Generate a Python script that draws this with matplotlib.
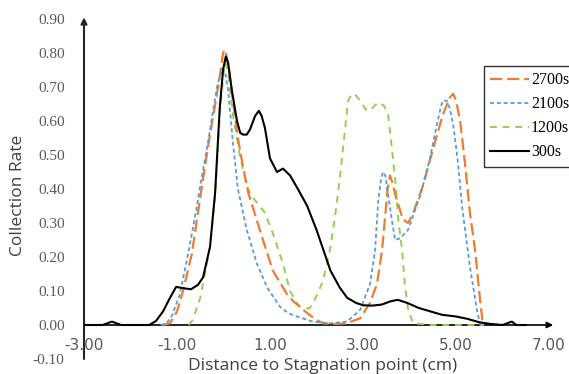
import matplotlib
matplotlib.use("Agg")
import matplotlib.pyplot as plt

# ---- data ----
x_2700 = [-1.3, -1.15, -1.0, -0.87, -0.68, -0.55, -0.44, -0.29, -0.14, -0.06, -0.02, 0.01, 0.05, 0.1, 0.2, 0.31, 0.4, 0.53, 0.78, 1.06, 1.37, 1.5, 1.8, 2.0, 2.14, 2.4, 2.65, 2.94, 3.15, 3.3, 3.41, 3.47, 3.53, 3.58, 3.63, 3.7, 3.86, 3.97, 4.08, 4.29, 4.51, 4.72, 4.87, 4.94, 5.0, 5.09, 5.19, 5.3, 5.41, 5.52, 5.58]
y_2700 = [0, 0.005, 0.04, 0.10, 0.21, 0.33, 0.43, 0.56, 0.68, 0.75, 0.79, 0.81, 0.80, 0.77, 0.66, 0.55, 0.48, 0.39, 0.28, 0.16, 0.09, 0.07, 0.035, 0.015, 0.005, 0.003, 0.005, 0.02, 0.065, 0.12, 0.22, 0.31, 0.40, 0.44, 0.42, 0.38, 0.31, 0.30, 0.33, 0.41, 0.52, 0.62, 0.67, 0.68, 0.66, 0.60, 0.48, 0.33, 0.22, 0.07, 0]

x_2100 = [-1.35, -1.22, -1.1, -0.94, -0.76, -0.57, -0.5, -0.33, -0.14, -0.06, -0.01, 0.04, 0.1, 0.2, 0.31, 0.5, 0.72, 0.94, 1.22, 1.39, 1.58, 1.92, 2.3, 2.66, 2.94, 3.15, 3.26, 3.33, 3.39, 3.43, 3.48, 3.52, 3.62, 3.69, 3.8, 3.97, 4.23, 4.44, 4.59, 4.68, 4.72, 4.8, 4.86, 4.94, 5.04, 5.13, 5.3, 5.45, 5.52]
y_2100 = [0, 0.005, 0.03, 0.09, 0.21, 0.35, 0.41, 0.54, 0.70, 0.74, 0.755, 0.74, 0.69, 0.54, 0.40, 0.28, 0.18, 0.11, 0.053, 0.035, 0.025, 0.01, 0.005, 0.01, 0.045, 0.12, 0.22, 0.37, 0.43, 0.45, 0.44, 0.40, 0.31, 0.25, 0.255, 0.28, 0.38, 0.49, 0.59, 0.645, 0.66, 0.66, 0.64, 0.59, 0.48, 0.35, 0.17, 0.045, 0]

x_1200 = [-0.75, -0.66, -0.5, -0.4, -0.29, -0.18, -0.08, 0.0, 0.05, 0.1, 0.2, 0.35, 0.5, 0.6, 0.72, 0.89, 1.06, 1.28, 1.43, 1.55, 1.65, 1.76, 1.86, 2.0, 2.14, 2.29, 2.4, 2.5, 2.61, 2.68, 2.76, 2.85, 2.94, 3.05, 3.15, 3.25, 3.33, 3.45, 3.54, 3.62, 3.69, 3.76, 3.84, 3.9, 3.97, 4.08, 4.5, 5.0, 5.6]
y_1200 = [0, 0.015, 0.08, 0.15, 0.23, 0.38, 0.62, 0.74, 0.77, 0.74, 0.62, 0.50, 0.41, 0.38, 0.36, 0.33, 0.27, 0.18, 0.10, 0.07, 0.053, 0.048, 0.05, 0.085, 0.13, 0.22, 0.32, 0.43, 0.57, 0.66, 0.68, 0.675, 0.66, 0.635, 0.63, 0.645, 0.655, 0.645, 0.62, 0.52, 0.43, 0.31, 0.22, 0.12, 0.045, 0.005, 0, 0, 0]

x_300 = [-3.0, -2.6, -2.5, -2.4, -2.3, -2.2, -1.6, -1.45, -1.3, -1.15, -1.02, -0.85, -0.7, -0.55, -0.44, -0.29, -0.18, -0.08, -0.01, 0.05, 0.1, 0.18, 0.29, 0.36, 0.42, 0.5, 0.57, 0.68, 0.76, 0.82, 0.89, 1.0, 1.15, 1.28, 1.43, 1.6, 1.8, 2.0, 2.15, 2.3, 2.5, 2.66, 2.85, 3.0, 3.2, 3.4, 3.6, 3.75, 3.95, 4.2, 4.45, 4.7, 5.0, 5.25, 5.5, 5.75, 6.0, 6.1, 6.2, 6.3, 6.5]
y_300 = [0, 0, 0.005, 0.01, 0.005, 0, 0, 0.012, 0.04, 0.08, 0.112, 0.108, 0.105, 0.118, 0.14, 0.23, 0.39, 0.64, 0.75, 0.79, 0.77, 0.69, 0.60, 0.565, 0.56, 0.56, 0.575, 0.615, 0.63, 0.615, 0.58, 0.49, 0.45, 0.46, 0.44, 0.40, 0.35, 0.28, 0.22, 0.16, 0.11, 0.08, 0.065, 0.058, 0.057, 0.06, 0.07, 0.074, 0.065, 0.05, 0.04, 0.03, 0.025, 0.018, 0.008, 0.003, 0.0, 0.005, 0.01, 0.0, 0]

x_ticks = [-3, -1, 1, 3, 5, 7]
y_ticks = [-0.1, 0.0, 0.1, 0.2, 0.3, 0.4, 0.5, 0.6, 0.7, 0.8, 0.9]

fig = plt.figure(figsize=(5.69, 3.74), dpi=100)
ax = fig.add_axes([84/569, 1-359/374, (549-84)/569, (359-19)/374])
ax.set_xlim(-3, 7)
ax.set_ylim(-0.1, 0.9)

ax.plot(x_2700, y_2700, color="#ED7D31", lw=1.6, dashes=(5.5, 2.2), label="2700s", zorder=3)
ax.plot(x_2100, y_2100, color="#5B9BD5", lw=1.3, dashes=(2.2, 1.6), label="2100s", zorder=4)
ax.plot(x_1200, y_1200, color="#92D050", lw=1.4, dashes=(3.5, 3.0), label="1200s", zorder=2)
ax.plot(x_300, y_300, color="black", lw=1.5, label="300s", zorder=5)

for s in ["top", "right", "bottom", "left"]:
    ax.spines[s].set_visible(False)

# axes with arrows
ax.annotate("", xy=(7.09, 0), xytext=(-3, 0), xycoords="data",
            arrowprops=dict(arrowstyle="-|>", color="black", lw=1.2, mutation_scale=9,
                            shrinkA=0, shrinkB=0), annotation_clip=False, zorder=1)
ax.annotate("", xy=(-3, 0.905), xytext=(-3, -0.1), xycoords="data",
            arrowprops=dict(arrowstyle="-|>", color="#262626", lw=1.5, mutation_scale=9,
                            shrinkA=0, shrinkB=0), annotation_clip=False, zorder=1)

ax.set_xticks(x_ticks)
ax.set_xticklabels([f"{v:.2f}" for v in x_ticks])
ax.set_yticks(y_ticks)
ax.set_yticklabels([f"{v:.2f}" for v in y_ticks])
ax.tick_params(axis="both", length=0, labelsize=11, labelcolor="#595959")
ax.tick_params(axis="y", pad=14)
for lab in ax.get_xticklabels() + ax.get_yticklabels():
    lab.set_family("Liberation Serif")

# place x tick labels just below y=0
ax.spines["bottom"].set_position(("data", 0))
ax.tick_params(axis="x", pad=9)

fig.text(323/569, 1-366/374, "Distance to Stagnation point (cm)", ha="center", va="center",
         fontsize=12.5, color="#404040", family="Open Sans")
fig.text(18/569, 1-195/374, "Collection Rate", ha="center", va="center", rotation=90,
         fontsize=12.5, color="#404040", family="Open Sans")

leg = ax.legend(loc="upper left", bbox_to_anchor=(484/569, 1-66/374), bbox_transform=fig.transFigure,
                frameon=True, fancybox=False, borderaxespad=0, handlelength=2.4, handletextpad=0.15,
                labelspacing=0.5, borderpad=0.4, prop={"family": "Liberation Serif", "size": 11.5})
leg.get_frame().set_edgecolor("black")
leg.get_frame().set_linewidth(1.0)

fig.savefig("out.png", dpi=100)
